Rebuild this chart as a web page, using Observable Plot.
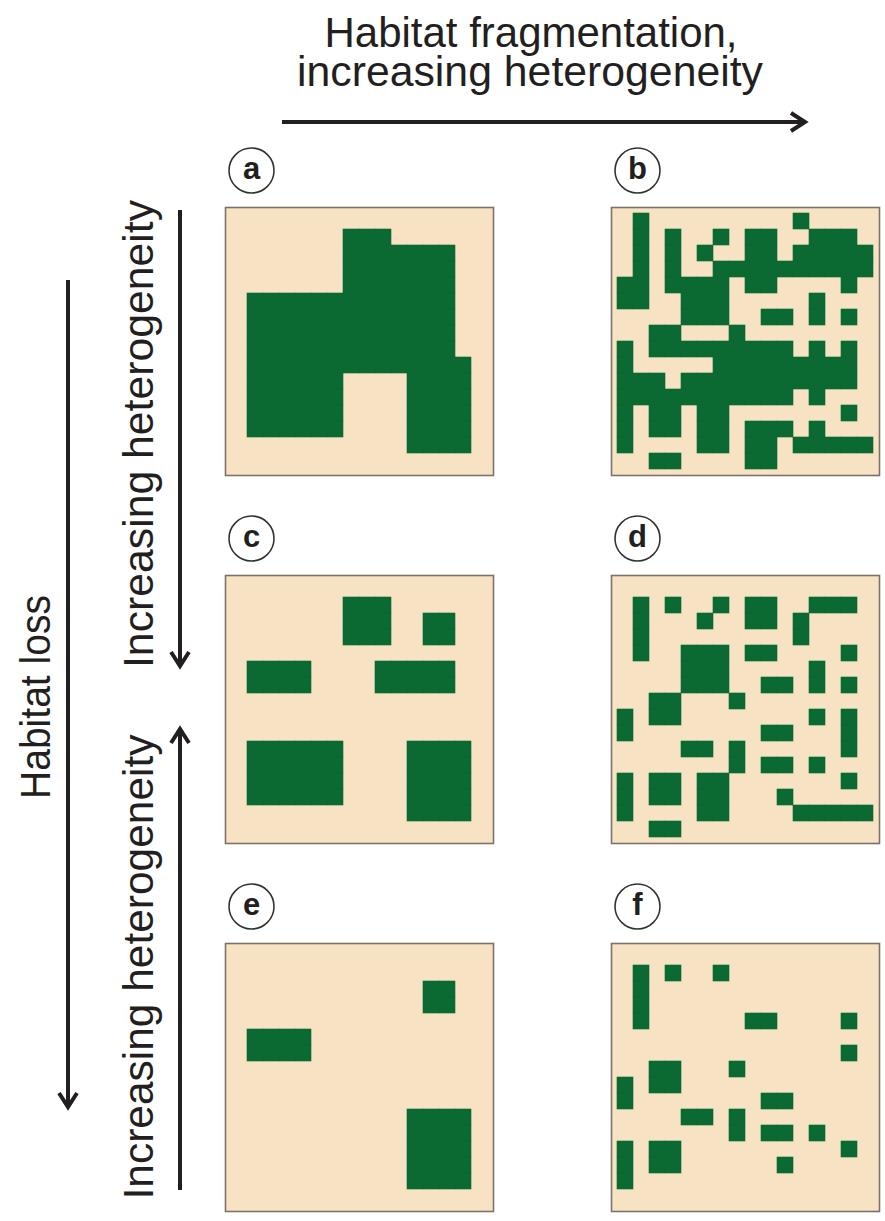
<!DOCTYPE html>
<html><head><meta charset="utf-8">
<script src="https://cdn.jsdelivr.net/npm/d3@7"></script>
<script src="https://cdn.jsdelivr.net/npm/@observablehq/plot@0.6"></script>
<style>
html,body{margin:0;padding:0;background:#fff;}
#wrap{position:relative;width:885px;height:1221px;overflow:hidden;}
#wrap svg{position:absolute;left:0;top:0;}
</style></head><body><div id="wrap"></div>
<script>
// ---- data ----
const panelLabels = ["a", "b", "c", "d", "e", "f"];
const fragmentationLevels = ["low", "high"];          // columns
const lossLevels = ["low", "medium", "high"];           // rows
const panelFragmentation = ["low", "high", "low", "high", "low", "high"];
const panelLoss = ["low", "low", "medium", "medium", "high", "high"];
const gridCells = d3.range(16);

const panelA = [
  "0000000000000000",
  "0000000111000000",
  "0000000111111100",
  "0000000111111100",
  "0000000111111100",
  "0111111111111100",
  "0111111111111100",
  "0111111111111100",
  "0111111111111100",
  "0111111111111110",
  "0111111000011110",
  "0111111000011110",
  "0111111000011110",
  "0111111000011110",
  "0000000000011110",
  "0000000000000000"
];
const panelB = [
  "0100000000010000",
  "0101001011001110",
  "0101010011011111",
  "0101001111111111",
  "1101111011000010",
  "1100111000001000",
  "0000111001101010",
  "0011000100000000",
  "1011111111101010",
  "1000001111111110",
  "1110111111111110",
  "1111111111101000",
  "1011011000000010",
  "1011011011101000",
  "1000011011011111",
  "0011000011000000"
];
const panelC = [
  "0000000000000000",
  "0000000111000000",
  "0000000111001100",
  "0000000111001100",
  "0000000000000000",
  "0111100001111100",
  "0111100001111100",
  "0000000000000000",
  "0000000000000000",
  "0000000000000000",
  "0111111000011110",
  "0111111000011110",
  "0111111000011110",
  "0111111000011110",
  "0000000000011110",
  "0000000000000000"
];
const panelD = [
  "0000000000000000",
  "0101001011001110",
  "0100010011010000",
  "0100000000010000",
  "0100111011000010",
  "0000111000001000",
  "0000111001101010",
  "0011000100000000",
  "1011000000001010",
  "1000000001100010",
  "0000110100000010",
  "0000000101101000",
  "1011011000000010",
  "1011011000100000",
  "1000011000011111",
  "0011000000000000"
];
const panelE = [
  "0000000000000000",
  "0000000000000000",
  "0000000000001100",
  "0000000000001100",
  "0000000000000000",
  "0111100000000000",
  "0111100000000000",
  "0000000000000000",
  "0000000000000000",
  "0000000000000000",
  "0000000000011110",
  "0000000000011110",
  "0000000000011110",
  "0000000000011110",
  "0000000000011110",
  "0000000000000000"
];
const panelF = [
  "0000000000000000",
  "0101001000000000",
  "0100000000000000",
  "0100000000000000",
  "0100000011000010",
  "0000000000000000",
  "0000000000000010",
  "0011000100000000",
  "1011000000000000",
  "1000000001100000",
  "0000110100000000",
  "0000000101101000",
  "1011000000000010",
  "1011000000100000",
  "1000000000000000",
  "0000000000000000"
];
const panelGrids = [panelA, panelB, panelC, panelD, panelE, panelF];

const titleLines = ["Habitat fragmentation,", "increasing heterogeneity"];
const lossLabel = "Habitat loss";
const heterogeneityLabel = "Increasing heterogeneity";

// ---- build tables ----
const labels = panelLabels.map((label, i) => ({label, frag: panelFragmentation[i], loss: panelLoss[i]}));
const cells = [];
panelGrids.forEach((grid, i) => {
  grid.forEach((line, row) => {
    [...line].forEach((v, col) => {
      if (v === "1") cells.push({panel: panelLabels[i], frag: panelFragmentation[i], loss: panelLoss[i], row, col});
    });
  });
});

const green = "#0a6a32";
const tan = "#f7e3c4";
const ink = "#231f20";

const chart = Plot.plot({
  width: 885,
  height: 1221,
  marginLeft: 225,
  marginRight: 6,
  marginTop: 206,
  marginBottom: 10,
  fx: {domain: fragmentationLevels, paddingInner: 0.3057, paddingOuter: 0, axis: null},
  fy: {domain: lossLevels, paddingInner: 0.2727, paddingOuter: 0, axis: null},
  x: {type: "band", domain: gridCells, padding: 0, axis: null},
  y: {type: "band", domain: gridCells, padding: 0, axis: null},
  marks: [
    Plot.frame({fill: tan, stroke: "none"}),
    Plot.cell(cells, {x: "col", y: "row", fx: "frag", fy: "loss", fill: green, stroke: green, strokeWidth: 0.6, inset: 0}),
    Plot.frame({stroke: "#7d7268", strokeWidth: 1.6}),
    Plot.dot(labels, {fx: "frag", fy: "loss", frameAnchor: "top-left", dx: 26, dy: -37, r: 22.5, fill: "white", stroke: "#333", strokeWidth: 1.6}),
    Plot.text(labels, {fx: "frag", fy: "loss", text: "label", frameAnchor: "top-left", textAnchor: "middle", lineAnchor: "middle", dx: 26, dy: -38, fontSize: 31, fontWeight: "bold", fill: ink, fontFamily: "'Liberation Sans', Arial, sans-serif"})
  ]
});
const wrap = document.getElementById("wrap");
wrap.appendChild(chart);

// ---- annotation overlay (titles and arrows) ----
const ns = "http://www.w3.org/2000/svg";
const ov = document.createElementNS(ns, "svg");
ov.setAttribute("width", 885);
ov.setAttribute("height", 1221);
ov.setAttribute("viewBox", "0 0 885 1221");
wrap.appendChild(ov);
const font = "'Liberation Sans', Arial, sans-serif";
function txt(s, x, y, len, rot) {
  const t = document.createElementNS(ns, "text");
  t.textContent = s;
  t.setAttribute("text-anchor", "middle");
  t.setAttribute("font-family", font);
  t.setAttribute("font-size", 43);
  t.setAttribute("fill", ink);
  t.setAttribute("textLength", len);
  t.setAttribute("lengthAdjust", "spacingAndGlyphs");
  t.setAttribute("transform", `translate(${x},${y})` + (rot ? ` rotate(${rot})` : ""));
  ov.appendChild(t);
}
function arrow(x1, y1, x2, y2) {
  const ang = Math.atan2(y2 - y1, x2 - x1);
  const back = 14, half = 9;
  const bx = x2 - back * Math.cos(ang), by = y2 - back * Math.sin(ang);
  const px = -Math.sin(ang) * half, py = Math.cos(ang) * half;
  const p = document.createElementNS(ns, "path");
  p.setAttribute("d", `M${x1},${y1}L${x2},${y2}M${bx + px},${by + py}L${x2},${y2}L${bx - px},${by - py}`);
  p.setAttribute("stroke", ink);
  p.setAttribute("stroke-width", 4);
  p.setAttribute("fill", "none");
  ov.appendChild(p);
}
txt(titleLines[0], 531, 47, 413);
txt(titleLines[1], 530, 86, 466);
arrow(282, 122, 805, 122);
txt(lossLabel, 50, 697, 204, -90);
arrow(68, 280, 68, 1107);
txt(heterogeneityLabel, 153, 434, 468, -90);
arrow(180, 210, 180, 666);
txt(heterogeneityLabel, 153, 967, 465, -90);
arrow(180, 1190, 180, 729);
</script>
</body></html>
